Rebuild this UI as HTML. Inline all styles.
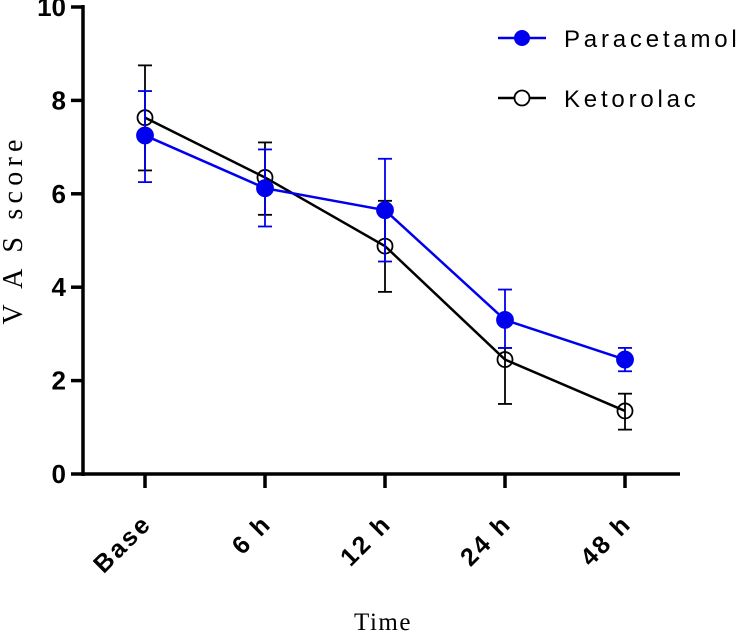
<!DOCTYPE html>
<html><head><meta charset="utf-8"><style>body{margin:0;background:#fff}svg{display:block}</style></head><body>
<svg width="744" height="634">
<g id="plot"></g>
</svg>
<script>
const categories=["Base","6 h","12 h","24 h","48 h"];
const paraMean=[7.25,6.12,5.65,3.3,2.45];
const paraLo=[6.25,5.3,4.55,2.7,2.2];
const paraHi=[8.2,6.95,6.75,3.95,2.7];
const ketoMean=[7.63,6.35,4.88,2.45,1.35];
const ketoLo=[6.5,5.55,3.9,1.5,0.95];
const ketoHi=[8.75,7.1,5.85,2.7,1.72];
const yTicks=[0,2,4,6,8,10];
const NS="http://www.w3.org/2000/svg";
const g=document.getElementById('plot');
const X=i=>145+120*i, Y=v=>474-46.7*v;
function mk(t,a,name,txt){const e=document.createElementNS(NS,t);for(const k in a)e.setAttribute(k,a[k]);


if(txt!==undefined)e.textContent=txt;g.appendChild(e);return e;}
mk('line',{x1:83,y1:5,x2:83,y2:476,stroke:'#000','stroke-width':3.5},'y-axis');
mk('line',{x1:82,y1:474,x2:680,y2:474,stroke:'#000','stroke-width':3.5},'x-axis');
yTicks.forEach(v=>{mk('line',{x1:71,y1:Y(v),x2:83,y2:Y(v),stroke:'#000','stroke-width':3.5},'y-tick');
mk('text',{x:66,y:Y(v)+9,'text-anchor':'end','font-family':'Liberation Sans, sans-serif','font-weight':'bold','font-size':26},'y-tick-label',v);});
categories.forEach((c,i)=>{mk('line',{x1:X(i),y1:474,x2:X(i),y2:488,stroke:'#000','stroke-width':3.5},'x-tick');
mk('text',{x:X(i)+8,y:525,'text-anchor':'end',transform:`rotate(-45 ${X(i)+8} 525)`,'font-family':'Liberation Sans, sans-serif','font-weight':'bold','font-size':25,'letter-spacing':2.5},'x-tick-label',c);});
mk('text',{x:383,y:630,'text-anchor':'middle','font-family':'Liberation Serif, serif','font-size':25,'letter-spacing':1.5},'x-axis-title','Time');
mk('text',{x:22,y:232,'text-anchor':'middle',transform:'rotate(-90 22 232)','font-family':'Liberation Serif, serif','font-size':28,textLength:185,lengthAdjust:'spacing'},'y-axis-title','V A S  score');
function series(mean,lo,hi,col,filled,name){
 let p=mean.map((v,i)=>`${X(i)},${Y(v)}`).join(' ');
 mk('polyline',{points:p,fill:'none',stroke:col,'stroke-width':2.5},name+'-line');
 mean.forEach((v,i)=>{const x=X(i);
  mk('line',{x1:x,y1:Y(lo[i]),x2:x,y2:Y(hi[i]),stroke:col,'stroke-width':1.8},name+'-errorbar');
  mk('line',{x1:x-7,y1:Y(lo[i]),x2:x+7,y2:Y(lo[i]),stroke:col,'stroke-width':1.8},name+'-errorcap');
  mk('line',{x1:x-7,y1:Y(hi[i]),x2:x+7,y2:Y(hi[i]),stroke:col,'stroke-width':1.8},name+'-errorcap');
  mk('circle',{cx:x,cy:Y(v),r:filled?8:7.5,fill:filled?col:'#fff','fill-opacity':filled?1:0,stroke:col,'stroke-width':1.8},name+'-point');});
}
series(ketoMean,ketoLo,ketoHi,'#000',false,'ketorolac');
series(paraMean,paraLo,paraHi,'#0000ee',true,'paracetamol');
mk('line',{x1:498,y1:38,x2:546,y2:38,stroke:'#0000ee','stroke-width':2.5},'legend-paracetamol-line');
mk('circle',{cx:522,cy:38,r:8,fill:'#0000ee'},'legend-paracetamol-marker');
mk('text',{x:564,y:47,'font-family':'Liberation Sans, sans-serif','font-size':24,'letter-spacing':3.8},'legend-paracetamol-label','Paracetamol');
mk('line',{x1:498,y1:98,x2:546,y2:98,stroke:'#000','stroke-width':2.5},'legend-ketorolac-line');
mk('circle',{cx:522,cy:98,r:7.5,fill:'#fff',stroke:'#000','stroke-width':1.8},'legend-ketorolac-marker');
mk('text',{x:564,y:107,'font-family':'Liberation Sans, sans-serif','font-size':24,'letter-spacing':3.8},'legend-ketorolac-label','Ketorolac');
</script>
</body></html>
